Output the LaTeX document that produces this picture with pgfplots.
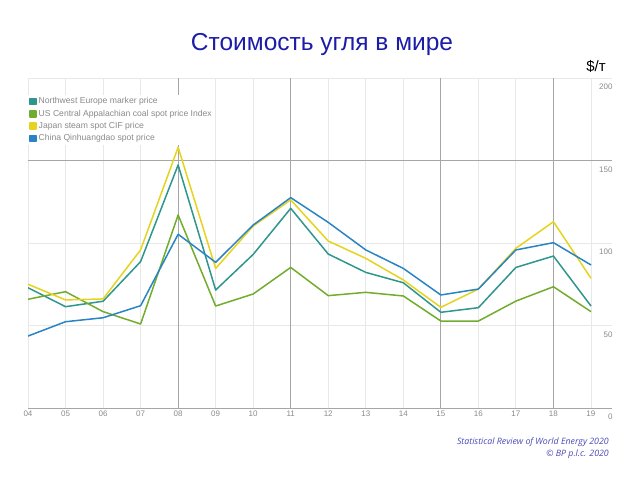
\documentclass[border=0pt]{standalone}
\usepackage{fontspec}
\setmainfont{Liberation Sans}
\newfontfamily\srcfont{Open Sans}
\usepackage{pgfplots}
\pgfplotsset{compat=1.18}

\definecolor{nweu}{HTML}{2E968C}
\definecolor{usca}{HTML}{72AC2C}
\definecolor{japn}{HTML}{E6D31E}
\definecolor{chin}{HTML}{2A84C4}
\definecolor{titleblue}{HTML}{1C1CA8}
\definecolor{srcblue}{HTML}{4848B8}
\definecolor{tickgray}{HTML}{8A8A8A}

\begin{document}
\begin{tikzpicture}[x=1pt,y=1pt]
\useasboundingbox (0,0) rectangle (640,-480);
\node[text=titleblue, font=\fontsize{24.5}{28}\selectfont] at (322,-44) {Стоимость угля в мире};
\node[font=\fontsize{15}{18}\selectfont] at (596,-66) {\$/т};
\node[anchor=east, align=right, text=srcblue, inner sep=0pt,
      font=\srcfont\itshape\fontsize{8.8}{12}\selectfont] at (609,-448)
  {Statistical Review of World Energy 2020\\© BP p.l.c. 2020};

\begin{axis}[
    at={(28pt,-408pt)}, anchor=south west,
    scale only axis, width=584pt, height=330pt,
    xmin=2004, xmax=2019.56, ymin=0, ymax=200,
    axis line style={draw=none},
    xtick={2004,...,2019},
    xticklabels={04,05,06,07,08,09,10,11,12,13,14,15,16,17,18,19},
    ytick={0,50,100,150,200},
    yticklabels={0,50,100,150,200},
    yticklabel pos=right,
    major tick length=0pt,
    tick label style={font=\fontsize{8}{10}\selectfont, text=tickgray},
    xticklabel style={yshift=1pt},
    yticklabel style={anchor=east, xshift=4pt, yshift=-9pt},
    xmajorgrids, ymajorgrids,
    grid style={color=black!9, line width=0.8pt},
    extra x ticks={2008,2011,2015,2018},
    extra x tick labels={},
    extra x tick style={grid style={color=black!35, line width=1pt}},
    extra y ticks={0,150},
    extra y tick labels={},
    extra y tick style={grid style={color=black!35, line width=0.8pt}},
    legend style={at={(0.0,0.95)}, anchor=north west, draw=none, fill=white,
      font=\fontsize{8.6}{12}\selectfont, text=tickgray, inner sep=1pt,
      row sep=0.5pt},
    legend cell align=left,
    legend image code/.code={\fill[#1] (0pt,-3pt) rectangle (6pt,3pt);},
    every axis plot/.append style={line width=1.5pt, line join=round},
  ]
\addplot[color=nweu] coordinates {(2004,72.9)(2005,61.4)(2006,64.7)(2007,88.7)(2008,147.3)(2009,71.5)(2010,93.1)(2011,121.0)(2012,93.3)(2013,82.2)(2014,75.9)(2015,58.0)(2016,60.8)(2017,85.2)(2018,92.1)(2019,61.8)};
\addplot[color=usca] coordinates {(2004,65.9)(2005,70.5)(2006,58.4)(2007,50.9)(2008,117.0)(2009,61.8)(2010,69.1)(2011,85.2)(2012,68.1)(2013,70.1)(2014,67.9)(2015,52.7)(2016,52.7)(2017,64.8)(2018,73.5)(2019,58.4)};
\addplot[color=japn] coordinates {(2004,75.0)(2005,65.5)(2006,66.1)(2007,95.8)(2008,158.0)(2009,84.6)(2010,110.3)(2011,126.1)(2012,101.2)(2013,90.7)(2014,77.6)(2015,61.0)(2016,72.1)(2017,96.8)(2018,112.9)(2019,78.6)};
\addplot[color=chin] coordinates {(2004,43.6)(2005,52.3)(2006,54.7)(2007,62.0)(2008,105.3)(2009,88.3)(2010,110.9)(2011,127.5)(2012,112.5)(2013,95.8)(2014,84.6)(2015,68.5)(2016,72.1)(2017,95.8)(2018,100.2)(2019,86.7)};
\legend{Northwest Europe marker price, US Central Appalachian coal spot price Index, Japan steam spot CIF price, China Qinhuangdao spot price}
\end{axis}
\end{tikzpicture}
\end{document}
